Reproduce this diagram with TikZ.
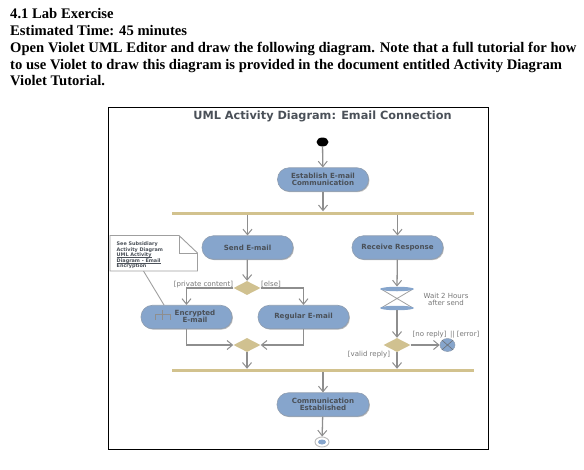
\documentclass[tikz,border=0pt]{standalone}
\usepackage{fontspec}
\setmainfont{Liberation Serif}
\newfontfamily\diagfont{DejaVu Sans}
\usetikzlibrary{arrows.meta,positioning,shapes.geometric,calc,shadows}
\definecolor{actfill}{HTML}{86A5CC}
\definecolor{actedge}{HTML}{8E9DB0}
\definecolor{barcol}{HTML}{D2C28E}
\definecolor{diafill}{HTML}{D0C190}
\definecolor{flowcol}{HTML}{8E8E8E}
\definecolor{txtcol}{HTML}{4A5058}
\definecolor{guardcol}{HTML}{777777}
\lineskiplimit=-6pt
\newcommand\noteul[1]{\setbox0=\hbox{#1}\rlap{\rule[-.7pt]{\wd0}{.3pt}}\box0 }
\tikzset{
  x=1pt,y=-1pt,
  acttext/.style={font=\diagfont\fontsize{7.1}{7.4}\selectfont\bfseries,text=txtcol},
  activity/.style={draw=actedge,line width=0.6pt,fill=actfill,rounded corners=11.5pt,minimum width=91pt,minimum height=23.5pt,inner sep=0pt,align=center,acttext,drop shadow={shadow xshift=.9pt,shadow yshift=-.9pt,fill=black!45,opacity=.6}},
  flow/.style={draw=flowcol,line width=1.3pt,-{Straight Barb[length=5.5pt,width=9pt,line width=1pt]}},
  decision/.style={diamond,aspect=1.9,fill=diafill,draw=none,minimum width=27pt,minimum height=14pt,inner sep=0pt},
  syncbar/.style={fill=barcol,draw=none,minimum width=302pt,minimum height=3pt,inner sep=0pt},
  guard/.style={font=\diagfont\fontsize{7}{7.4}\selectfont,text=guardcol,inner sep=0pt,align=center},
  heading/.style={anchor=base west,inner sep=0pt,font=\fontsize{14.63}{16}\selectfont\bfseries},
  timerend/.style={ellipse,fill=actfill,minimum width=34pt,minimum height=4.5pt,inner sep=0pt},
  noteline/.style={draw=gray!75,line width=.9pt},
}
\begin{document}
\begin{tikzpicture}
\useasboundingbox (0,0) rectangle (584,469);
\node[heading] (h1) at (10,18.5) {4.1 Lab Exercise};
\node[heading] (h2) at (10,35.5) {Estimated Time: 45 minutes};
\node[heading] (h3) at (10,52) {Open Violet UML Editor and draw the following diagram. Note that a full tutorial for how};
\node[heading] (h4) at (10,69) {to use Violet to draw this diagram is provided in the document entitled Activity Diagram};
\node[heading] (h5) at (10,85.5) {Violet Tutorial.};
\node[draw=black,line width=1pt,minimum width=380pt,minimum height=342pt,inner sep=0pt] (frame) at (298.5,278) {};
\node[font=\diagfont\fontsize{11.3}{12}\selectfont\bfseries,text=txtcol] (title) at (322.5,116) {UML Activity Diagram: Email Connection};

\node[ellipse,fill=black,minimum width=12pt,minimum height=9pt,inner sep=0pt] (start) at (322.5,142) {};
\node[activity] (establish) at (323,179.5) {Establish E-mail\\Communication};
\node[syncbar] (bar1) at (323,213) {};
\node[activity] (send) at (247.5,247.5) {Send E-mail};
\node[activity] (receive) at (397.5,247.5) {Receive Response};
\node[decision] (d1) at (247,288) {};
\node[activity] (enc) at (186.5,317) {};
\node[activity] (reg) at (303.5,317) {Regular E-mail};
\node[decision] (merge) at (247,345) {};
\node[decision] (d2) at (397,345) {};
\node[ellipse,fill=actfill,draw=actedge,line width=.5pt,minimum width=15pt,minimum height=13pt,inner sep=0pt] (flowend) at (447.5,345) {};
\draw[txtcol!80,line width=.6pt] (flowend.north west) -- (flowend.south east) (flowend.north east) -- (flowend.south west);
\node[syncbar] (bar2) at (323,370.5) {};
\node[activity,minimum width=92pt] (comm) at (323,404.5) {Communication\\Established};
\node[ellipse,draw=flowcol!60,line width=.9pt,fill=white,minimum width=14pt,minimum height=10pt,inner sep=0pt] (stop) at (322,442) {};
\node[ellipse,fill=actfill,minimum width=8pt,minimum height=5pt,inner sep=0pt] (stopdot) at (stop) {};

% encrypted label and rake icon
\node[acttext,align=center,inner sep=0pt] (enctext) at (195,316.5) {Encrypted\\E-mail};
\draw[flowcol,line width=.7pt] (162.5,310) -- (162.5,320) (155,320) -- (155,314.5) -- (170.5,314.5) -- (170.5,320);

% timer (hourglass)
\coordinate (gtop) at (397,289);
\coordinate (gbot) at (397,308);
\draw[flowcol!85,line width=.8pt] (381,289) -- (413,308) (413,289) -- (381,308);
\node[timerend] (tt) at (gtop) {};
\node[timerend] (tb) at (gbot) {};

% note
\coordinate (n1) at (110,235.5);
\coordinate (n2) at (179,235.5);
\coordinate (n3) at (197.5,253);
\coordinate (n4) at (197.5,271);
\coordinate (n5) at (110,271);
\draw[noteline,fill=white] (n1) -- (n2) -- (n3) -- (n4) -- (n5) -- cycle;
\draw[noteline] (n2) -- (179,253) -- (n3);
\node[anchor=north west,inner sep=0pt,align=left,font=\diagfont\fontsize{4.9}{5.5}\selectfont\bfseries,text=txtcol] (note) at (116.5,242) {See Subsidiary\\Activity Diagram\\\noteul{UML Activity}\\\noteul{Diagram - Email}\\Encryption};
\coordinate (notefoot) at (143.5,271);
\draw[noteline] (notefoot) -- ($(enc.north)+(-22.5,0)$);

% connectors
\draw[flow] (start) -- (establish);
\draw[flow] (establish) -- (establish |- bar1.north);
\draw[flow] (send |- bar1.south) -- (send);
\draw[flow] (receive |- bar1.south) -- (receive);
\draw[flow] (send) -- (d1);
\draw[flow] (d1) -| (enc);
\draw[flow] (d1) -| (reg);
\draw[flow] (enc) |- (merge);
\draw[flow] (reg) |- (merge);
\draw[flow] (merge) -- (merge |- bar2.north);
\draw[flow] (receive) -- (tt.north);
\draw[flow] (tb) -- (d2);
\draw[flow] (d2) -- (flowend);
\draw[flow] (d2) -- (d2 |- bar2.north);
\draw[flow] (comm |- bar2.south) -- (comm);
\draw[flow] (comm) -- (stop);

% guards
\node[guard] (g1) at (203.5,284.5) {[private content]};
\node[guard] (g2) at (271,284.5) {[else]};
\node[guard] (g3) at (446,334.5) {[no reply] {\,}|| [error]};
\node[guard] (g4) at (369,355) {[valid reply]};
\node[guard] (g5) at (446,299.5) {Wait 2 Hours\\after send};
\end{tikzpicture}
\end{document}
